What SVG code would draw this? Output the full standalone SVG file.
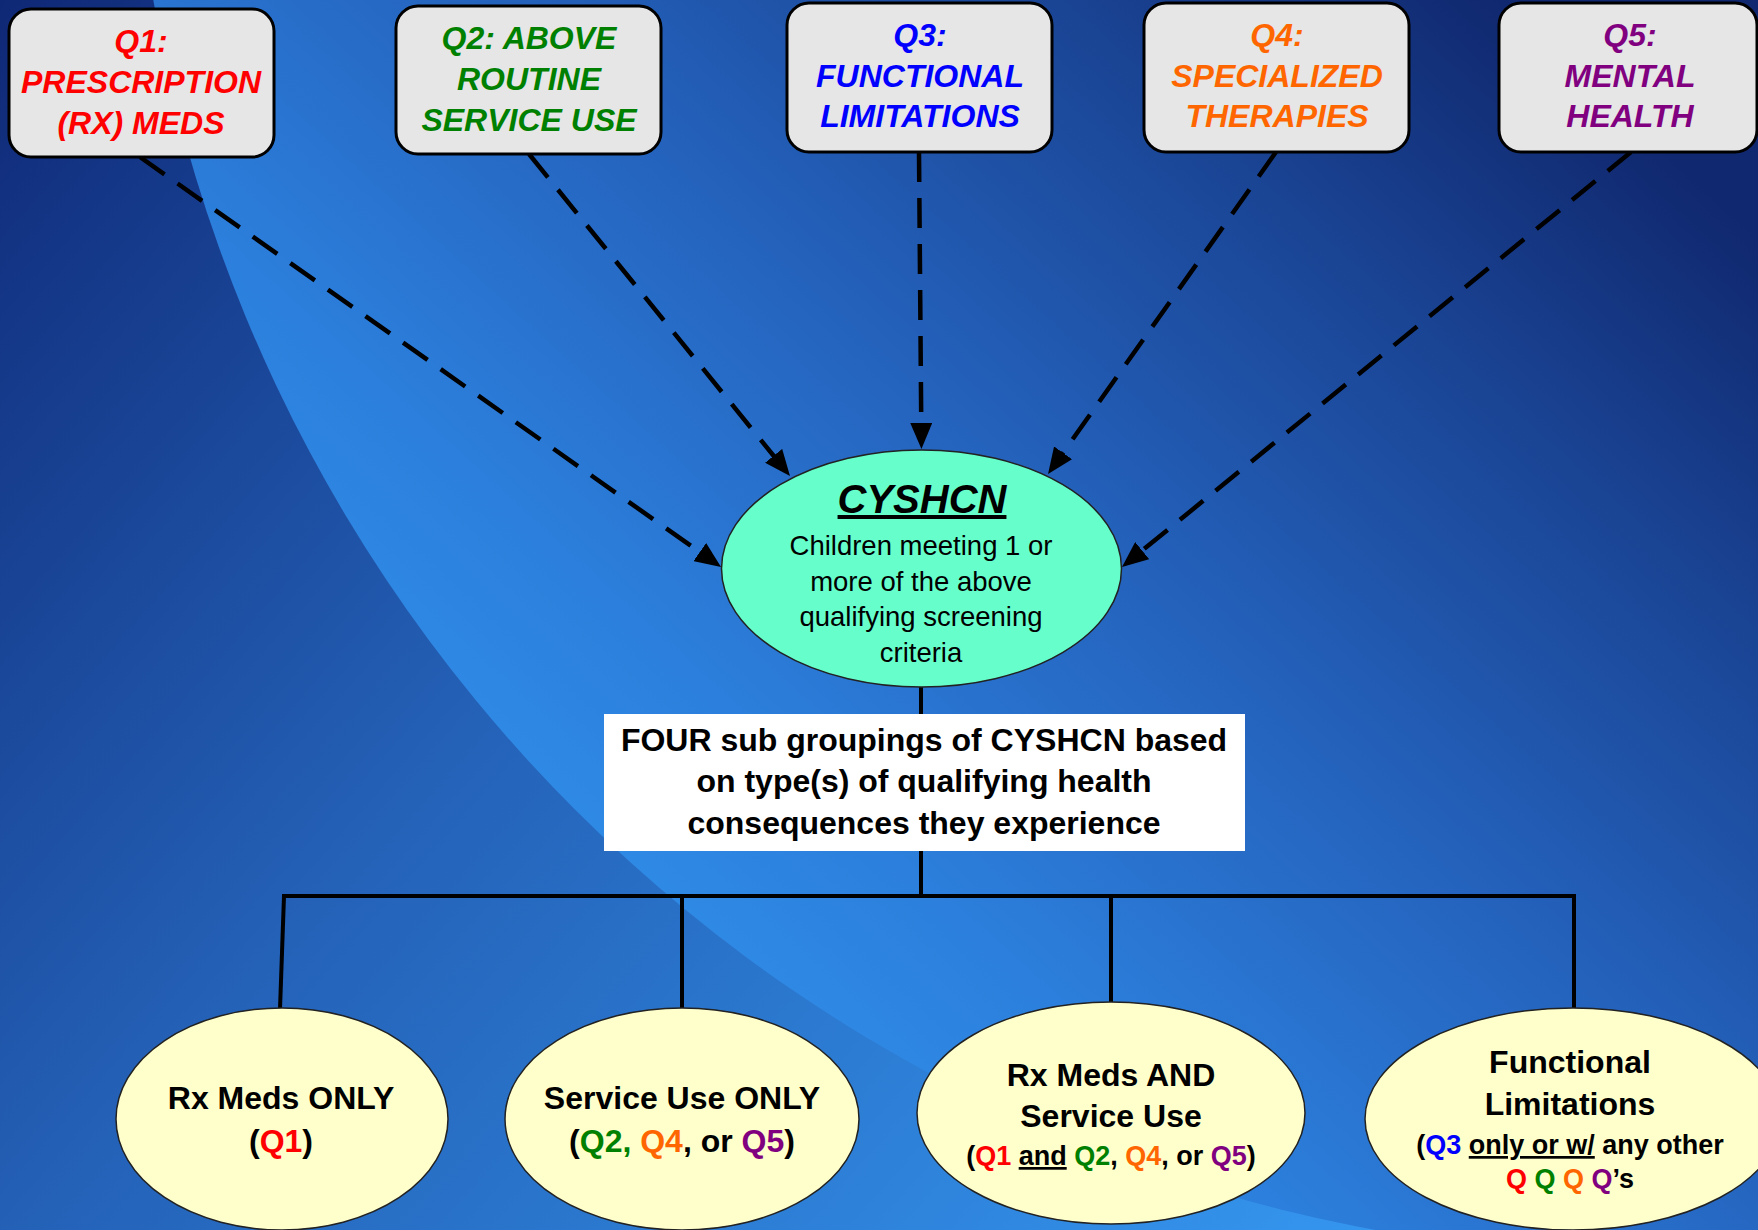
<svg xmlns="http://www.w3.org/2000/svg" width="1758" height="1230" viewBox="0 0 1758 1230">
<defs>
<linearGradient id="bgOut" gradientUnits="userSpaceOnUse" x1="0" y1="0" x2="1400" y2="1230">
<stop offset="0" stop-color="#0f2876"/>
<stop offset="0.45" stop-color="#2462b8"/>
<stop offset="1" stop-color="#3597f0"/>
</linearGradient>
<linearGradient id="bgIn" gradientUnits="userSpaceOnUse" x1="1500" y1="0" x2="500" y2="1100">
<stop offset="0" stop-color="#10286f"/>
<stop offset="0.2" stop-color="#1a4494"/>
<stop offset="0.45" stop-color="#2462bc"/>
<stop offset="0.7" stop-color="#2c7fdc"/>
<stop offset="0.9" stop-color="#3090ea"/>
</linearGradient>
<marker id="arr" markerUnits="userSpaceOnUse" markerWidth="26" markerHeight="22" viewBox="0 0 26 22" refX="6" refY="11" orient="auto">
<path d="M0,0 L26,11 L0,22 z" fill="#000"/>
</marker>
<style>
.qbox{fill:#e6e6e6;stroke:#000;stroke-width:3}
.qt{font-family:"Liberation Sans",Arial,sans-serif;font-weight:bold;font-style:italic;font-size:32px;text-anchor:middle}
.dash{fill:none;stroke:#000;stroke-width:4.5;stroke-dasharray:30 16;marker-end:url(#arr)}
.solid{fill:none;stroke:#000;stroke-width:4}
.bt{font-family:"Liberation Sans",Arial,sans-serif;font-weight:bold;font-size:32px;text-anchor:middle;fill:#000}
.st{font-family:"Liberation Sans",Arial,sans-serif;font-weight:bold;font-size:27px;text-anchor:middle;fill:#000}
.yel{fill:#ffffcc;stroke:#222;stroke-width:1.5}
.red{fill:#ff0000}.grn{fill:#008000}.blu{fill:#0000ff}.org{fill:#ff6600}.pur{fill:#800080}
</style>
</defs>
<g id="background">
<rect x="0" y="0" width="1758" height="1230" fill="url(#bgOut)"/>
<circle cx="1650" cy="-265" r="1520" fill="url(#bgIn)"/>
</g>
<g id="connectors">
<path class="dash" d="M140,157 L704.7,555.5"/>
<path class="dash" d="M529,154 L777.4,460.5"/>
<path class="dash" d="M919,152 L921.3,429"/>
<path class="dash" d="M1276,152 L1059.6,457.7"/>
<path class="dash" d="M1631,152 L1137.5,554.4"/>
<path class="solid" d="M921,687 L921,714"/>
<path class="solid" d="M921,851 L921,896"/>
<path class="solid" d="M282,896 L1576,896"/>
<path class="solid" d="M284,896 L280,1009"/>
<path class="solid" d="M682,896 L682,1009"/>
<path class="solid" d="M1111,896 L1111,1003"/>
<path class="solid" d="M1574,896 L1574,1009"/>
</g>
<g id="q1">
<rect class="qbox" x="9" y="9" width="265" height="148" rx="22"/>
<text class="qt red"><tspan x="141" y="52">Q1:</tspan><tspan x="141" y="93">PRESCRIPTION</tspan><tspan x="141" y="134">(RX) MEDS</tspan></text>
</g>
<g id="q2">
<rect class="qbox" x="396" y="6" width="265" height="148" rx="22"/>
<text class="qt grn"><tspan x="529" y="49">Q2: ABOVE</tspan><tspan x="529" y="90">ROUTINE</tspan><tspan x="529" y="131">SERVICE USE</tspan></text>
</g>
<g id="q3">
<rect class="qbox" x="787" y="3" width="265" height="149" rx="22"/>
<text class="qt blu"><tspan x="920" y="46">Q3:</tspan><tspan x="920" y="87">FUNCTIONAL</tspan><tspan x="920" y="127">LIMITATIONS</tspan></text>
</g>
<g id="q4">
<rect class="qbox" x="1144" y="3" width="265" height="149" rx="22"/>
<text class="qt org"><tspan x="1277" y="46">Q4:</tspan><tspan x="1277" y="87">SPECIALIZED</tspan><tspan x="1277" y="127">THERAPIES</tspan></text>
</g>
<g id="q5">
<rect class="qbox" x="1499" y="3" width="258" height="149" rx="22"/>
<text class="qt pur"><tspan x="1630" y="46">Q5:</tspan><tspan x="1630" y="87">MENTAL</tspan><tspan x="1630" y="127">HEALTH</tspan></text>
</g>
<g id="cyshcn">
<ellipse cx="921.5" cy="568.5" rx="200" ry="118.5" fill="#66ffcc" stroke="#222" stroke-width="1.5"/>
<text x="922" y="513" font-family="Liberation Sans, Arial, sans-serif" font-weight="bold" font-style="italic" font-size="40" text-anchor="middle" text-decoration="underline" fill="#000">CYSHCN</text>
<text font-family="Liberation Sans, Arial, sans-serif" font-size="27.5" text-anchor="middle" fill="#000"><tspan x="921" y="555">Children meeting 1 or</tspan><tspan x="921" y="590.5">more of the above</tspan><tspan x="921" y="626">qualifying screening</tspan><tspan x="921" y="661.5">criteria</tspan></text>
</g>
<g id="subgroups">
<rect x="604" y="714" width="641" height="137" fill="#ffffff"/>
<text class="bt"><tspan x="924" y="751">FOUR sub groupings of CYSHCN based</tspan><tspan x="924" y="792">on type(s) of qualifying health</tspan><tspan x="924" y="834">consequences they experience</tspan></text>
</g>
<g id="rx-only">
<ellipse class="yel" cx="282" cy="1119" rx="166" ry="111"/>
<text class="bt"><tspan x="281" y="1109">Rx Meds ONLY</tspan><tspan x="281" y="1152">(<tspan class="red">Q1</tspan>)</tspan></text>
</g>
<g id="service-only">
<ellipse class="yel" cx="682" cy="1119" rx="177" ry="111"/>
<text class="bt"><tspan x="682" y="1109">Service Use ONLY</tspan><tspan x="682" y="1152">(<tspan class="grn">Q2,</tspan> <tspan class="org">Q4</tspan>, or <tspan class="pur">Q5</tspan>)</tspan></text>
</g>
<g id="rx-and-service">
<ellipse class="yel" cx="1111" cy="1113" rx="194" ry="111"/>
<text class="bt"><tspan x="1111" y="1086">Rx Meds AND</tspan><tspan x="1111" y="1127">Service Use</tspan></text>
<text class="st" x="1111" y="1165">(<tspan class="red">Q1</tspan> <tspan text-decoration="underline">and</tspan> <tspan class="grn">Q2</tspan>, <tspan class="org">Q4</tspan>, or <tspan class="pur">Q5</tspan>)</text>
</g>
<g id="functional">
<ellipse class="yel" cx="1573" cy="1119" rx="208" ry="111"/>
<text class="bt"><tspan x="1570" y="1073">Functional</tspan><tspan x="1570" y="1115">Limitations</tspan></text>
<text class="st" x="1570" y="1154">(<tspan class="blu">Q3</tspan> <tspan text-decoration="underline">only or w/</tspan> any other</text>
<text class="st" x="1570" y="1188"><tspan class="red">Q</tspan> <tspan class="grn">Q</tspan> <tspan class="org">Q</tspan> <tspan class="pur">Q</tspan>’s</text>
</g>
</svg>
